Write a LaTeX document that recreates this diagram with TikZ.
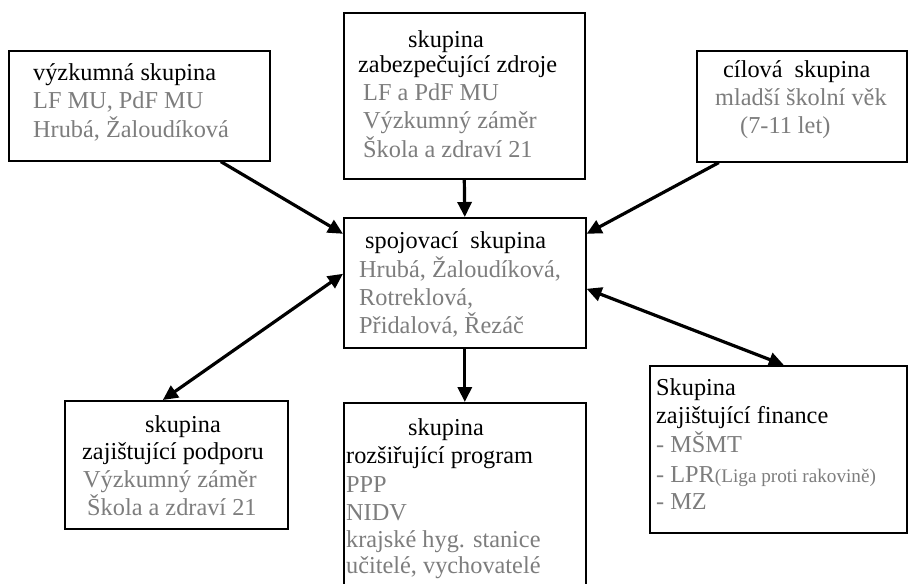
\documentclass[tikz,border=0pt]{standalone}
\usepackage{fontspec}
\setmainfont{Liberation Serif}
\usetikzlibrary{arrows.meta}
\definecolor{tgray}{RGB}{125,125,125}
\tikzset{
  box/.style={draw=black, line width=1.6pt, fill=none, rectangle, inner sep=0pt, anchor=north west},
  tx/.style={anchor=base west, inner sep=0pt, font=\fontsize{24.3}{28}\selectfont, text=black},
  gx/.style={tx, text=tgray},
  arr/.style={line width=3.2pt, -{Triangle[length=15pt,width=14pt]}},
  darr/.style={line width=3.2pt, {Triangle[length=15pt,width=14pt]}-{Triangle[length=15pt,width=14pt]}}
}
\begin{document}
\begin{tikzpicture}[x=1pt,y=-1pt]
\useasboundingbox (0,0) rectangle (911,584);
\clip (0,0) rectangle (911,584);
\fill[white] (0,0) rectangle (911,584);
% boxes
\node[box, minimum width=261pt, minimum height=110pt] (b1) at (8,50) {};
\node[box, minimum width=241pt, minimum height=166pt] (b2) at (343,12) {};
\node[box, minimum width=210pt, minimum height=111pt] (b3) at (696,50) {};
\node[box, minimum width=242pt, minimum height=130pt] (c) at (343,217) {};
\node[box, minimum width=223pt, minimum height=128pt] (p) at (64,400) {};
\node[box, minimum width=242pt, minimum height=210pt] (r) at (343,402) {};
\node[box, minimum width=257pt, minimum height=167pt] (f) at (649,365) {};
% texts box 1
\node[tx] (b1t1) at (33,80) {výzkumná skupina};
\node[gx] (b1t2) at (33,108) {LF MU, PdF MU};
\node[gx] (b1t3) at (33,137) {Hrubá, Žaloudíková};
% box 2
\node[tx] (b2t1) at (408,47) {skupina};
\node[tx] (b2t2) at (358,72) {zabezpečující zdroje};
\node[gx] (b2t3) at (363,100) {LF a PdF MU};
\node[gx] (b2t4) at (363,128) {Výzkumný záměr};
\node[gx] (b2t5) at (363,157) {Škola a zdraví 21};
% box 3
\node[tx] (b3t1) at (723,77) {cílová\ \ skupina};
\node[gx] (b3t2) at (715,105) {mladší školní věk};
\node[gx] (b3t3) at (740,133) {(7-11 let)};
% central
\node[tx] (ct1) at (365,248) {spojovací\ \ skupina};
\node[gx] (ct2) at (359,277) {Hrubá, Žaloudíková,};
\node[gx] (ct3) at (359,305) {Rotreklová,};
\node[gx] (ct4) at (359,333) {Přidalová, Řezáč};
% podpora
\node[tx] (pt1) at (145,432) {skupina};
\node[tx] (pt2) at (82,459) {zajištující podporu};
\node[gx] (pt3) at (83,487) {Výzkumný záměr};
\node[gx] (pt4) at (87,515) {Škola a zdraví 21};
% rozsirujici
\node[tx] (rt1) at (408,435) {skupina};
\node[tx] (rt2) at (346,463) {rozšiřující program};
\node[gx] (rt3) at (346,492) {PPP};
\node[gx] (rt4) at (346,520) {NIDV};
\node[gx] (rt5) at (346,547) {krajské hyg. stanice};
\node[gx] (rt6) at (346,573) {učitelé, vychovatelé};
% finance
\node[tx] (ft1) at (656,395) {Skupina};
\node[tx] (ft2) at (656,423) {zajištující finance};
\node[gx] (ft3) at (656,452) {- MŠMT};
\node[gx] (ft4) at (656,482) {- LPR{\fontsize{19.2}{22}\selectfont(Liga proti rakovině)}};
\node[gx] (ft5) at (656,509) {- MZ};
% arrows
\draw[arr] ([xshift=81.5pt]b1.south) -- ([yshift=49pt]c.west);
\draw[arr] (b2.south) -- (c.north);
\draw[arr] ([xshift=-83pt]b3.south) -- ([yshift=49pt]c.east);
\draw[darr] ([yshift=9pt]c.west) -- ([xshift=-13.5pt]p.north);
\draw[arr] (c.south) -- (r.north);
\draw[darr] ([yshift=-6pt]c.east) -- ([xshift=5.5pt]f.north);
\end{tikzpicture}
\end{document}
